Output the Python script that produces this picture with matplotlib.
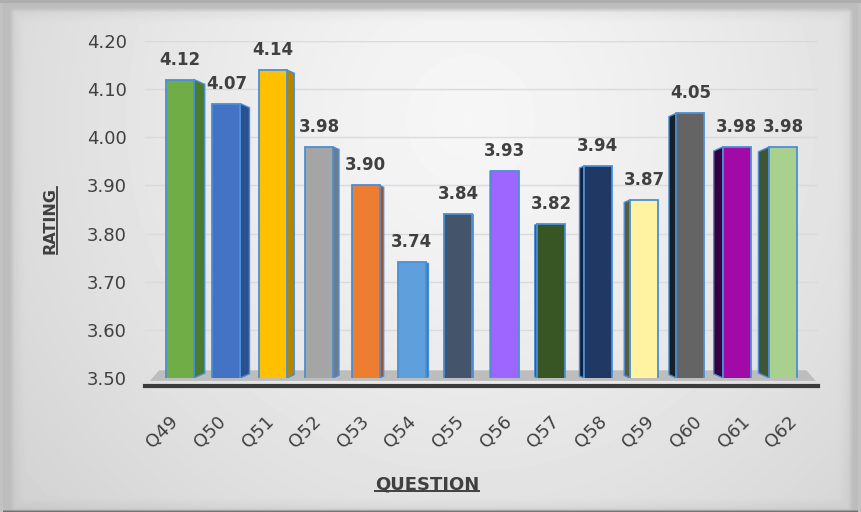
import numpy as np
import matplotlib
matplotlib.use("Agg")
import matplotlib.pyplot as plt
import matplotlib.transforms as mtransforms
from matplotlib.patches import Polygon
from matplotlib.lines import Line2D

# data
questions = ['Q49', 'Q50', 'Q51', 'Q52', 'Q53', 'Q54', 'Q55',
             'Q56', 'Q57', 'Q58', 'Q59', 'Q60', 'Q61', 'Q62']
ratings = [4.12, 4.07, 4.14, 3.98, 3.90, 3.74, 3.84,
           3.93, 3.82, 3.94, 3.87, 4.05, 3.98, 3.98]
yticks = [3.50, 3.60, 3.70, 3.80, 3.90, 4.00, 4.10, 4.20]

front_colors = ['#70AD47', '#4472C4', '#FFC000', '#A5A5A5', '#ED7D31', '#5FA0DC', '#44546A',
                '#9E66FF', '#375623', '#203864', '#FFF2A0', '#646464', '#A20AA8', '#A9D18E']
side_colors = ['#4B7B2C', '#2B4F8F', '#B38600', '#6F7C88', '#A85420', '#3E6F9E', '#2E3A4A',
               '#6E44B8', '#263D18', '#0F1F3C', '#5C5C3C', '#15202B', '#35003F', '#3F5533']
edge_col = '#4A8FD6'
text_col = '#404040'

W, H = 861, 512
fig = plt.figure(figsize=(W / 100, H / 100), dpi=100)

# background card with soft shadow
yy, xx = np.mgrid[0:H, 0:W].astype(float)
r = np.sqrt(((xx - 470) / 450) ** 2 + ((yy - 120) / 460) ** 2)
img = 0.965 - 0.10 * r ** 1.3
cx0, cx1, cy0, cy1 = 12, 850, 10, 509
d_edge = np.minimum.reduce([xx - cx0, cx1 - xx, yy - cy0, cy1 - yy])
img = img - 0.04 * np.clip(1 - d_edge / 12, 0, 1) * (d_edge >= 0)
img[d_edge < 0] = 0.74
k = np.ones(5) / 5
img = np.apply_along_axis(lambda v: np.convolve(v, k, mode='same'), 1, img)
img = np.apply_along_axis(lambda v: np.convolve(v, k, mode='same'), 0, img)
img[:, :3] = 0.76
img[:, -3:] = 0.76
img[:3, :] = 0.68
bg = fig.add_axes([0, 0, 1, 1])
bg.imshow(img, cmap='gray', vmin=0, vmax=1, extent=[0, W, H, 0], aspect='auto')
bg.set_xlim(0, W)
bg.set_ylim(H, 0)
bg.axis('off')

ax = fig.add_axes([145 / W, 1 - 378 / H, (818 - 145) / W, (378 - 41) / H])
ax.patch.set_alpha(0)
x = np.arange(len(questions))
ax.set_xlim(-0.754, 13.75)
ax.set_ylim(3.5, 4.2)

for t in yticks:
    ax.axhline(t, color='#dadada', lw=1, zorder=0)

# floor strip
floor = Polygon([(-0.65, 3.494), (13.7, 3.494), (13.5, 3.516), (-0.45, 3.516)],
                closed=True, facecolor='#bdbdbd', edgecolor='none', zorder=1, clip_on=False)
ax.add_patch(floor)

bw = 0.6
px_y = 0.7 / 337
for i, v in enumerate(ratings):
    d = 0.036 * (6.5 - i)
    d_px = abs(d) * 46.4
    e = 0.45 * d_px * px_y
    if d >= 0:
        x0 = i + bw / 2
    else:
        x0 = i - bw / 2
    x1 = x0 + d
    side = Polygon([(x0, 3.5), (x1, 3.5 + e), (x1, v - e), (x0, v)], closed=True,
                   facecolor=side_colors[i], edgecolor=edge_col, lw=1.0, zorder=2)
    ax.add_patch(side)

ax.bar(x, ratings, width=bw, bottom=0, color=front_colors, edgecolor=edge_col,
       linewidth=1.3, zorder=3)

for i, v in enumerate(ratings):
    ax.annotate('%.2f' % v, xy=(i, v), xytext=(0, 15), textcoords='offset pixels',
                ha='center', va='baseline', fontsize=12, fontweight='bold', color=text_col)

ax.tick_params(axis='y', length=0, pad=13, labelsize=13, labelcolor=text_col)
ax.tick_params(axis='x', length=0, pad=19, labelsize=13, labelcolor=text_col)
ax.set_yticks(yticks)
ax.set_yticklabels(['%.2f' % t for t in yticks])
ax.set_xticks(x)
ax.set_xticklabels(questions, rotation=45, ha='right', va='top')

for s in ['left', 'top', 'right']:
    ax.spines[s].set_visible(False)
ax.spines['bottom'].set_position(('outward', 6))
ax.spines['bottom'].set_linewidth(3)
ax.spines['bottom'].set_color('#3b3b3b')

t_rating = fig.text(50 / W, 1 - 220 / H, 'RATING', rotation=90, ha='center', va='center',
                    fontsize=11.5, fontweight='bold', color=text_col)
t_question = fig.text(427 / W, 1 - 484 / H, 'QUESTION', ha='center', va='center',
                      fontsize=13, fontweight='bold', color=text_col)

fig.canvas.draw()
# spread the rotated labels a little, as in the perspective chart
for i, lbl in enumerate(ax.get_xticklabels()):
    lbl.set_rotation(45)
    lbl.set_ha('right')
    lbl.set_transform(lbl.get_transform() + mtransforms.Affine2D().translate(2 + 1.2 * i, 0))

# underline the axis titles
inv = fig.transFigure.inverted()
bb = t_question.get_window_extent()
(a0, b0), (a1, b1) = inv.transform([(bb.x0, bb.y0 + 2), (bb.x1, bb.y0 + 2)])
fig.add_artist(Line2D([a0, a1], [b0, b1], color=text_col, lw=1.4))
bb = t_rating.get_window_extent()
(a0, b0), (a1, b1) = inv.transform([(bb.x1 - 1, bb.y0), (bb.x1 - 1, bb.y1)])
fig.add_artist(Line2D([a0, a1], [b0, b1], color=text_col, lw=1.3))

fig.savefig('out.png', dpi=100)
